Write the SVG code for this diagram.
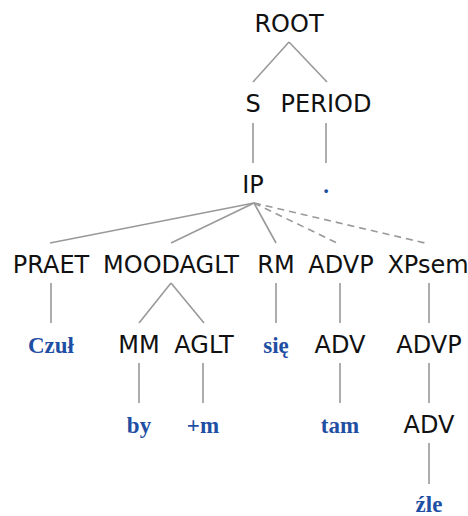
<svg xmlns="http://www.w3.org/2000/svg" width="468" height="516" viewBox="0 0 468 516">
<style>
.n{font-family:"DejaVu Sans",Verdana,sans-serif;font-size:24px;fill:#111;text-anchor:middle}
.w{font-family:"Liberation Serif","Times New Roman",serif;font-size:23px;font-weight:bold;fill:#1f4fa3;text-anchor:middle}
.e{stroke:#999;stroke-width:1.6;fill:none}
.d{stroke-dasharray:7,5}
</style>
<rect width="468" height="516" fill="#fff"/>
<g id="connectors">
<line class="e" x1="289" y1="42" x2="253" y2="82"/>
<line class="e" x1="289" y1="42" x2="327" y2="82"/>
<line class="e" x1="253" y1="123" x2="253" y2="163"/>
<line class="e" x1="326" y1="123" x2="326" y2="163"/>
<line class="e" x1="254" y1="203" x2="50" y2="243"/>
<line class="e" x1="254" y1="203" x2="171" y2="243"/>
<line class="e" x1="254" y1="203" x2="276" y2="243"/>
<line class="e d" x1="254" y1="203" x2="337" y2="243"/>
<line class="e d" x1="254" y1="203" x2="425" y2="243"/>
<line class="e" x1="51" y1="283" x2="51" y2="323"/>
<line class="e" x1="171" y1="283" x2="139" y2="323"/>
<line class="e" x1="171" y1="283" x2="204" y2="323"/>
<line class="e" x1="276" y1="283" x2="276" y2="323"/>
<line class="e" x1="340" y1="283" x2="340" y2="323"/>
<line class="e" x1="429" y1="283" x2="429" y2="323"/>
<line class="e" x1="139" y1="363" x2="139" y2="403"/>
<line class="e" x1="203" y1="363" x2="203" y2="403"/>
<line class="e" x1="340" y1="363" x2="340" y2="403"/>
<line class="e" x1="429" y1="363" x2="429" y2="403"/>
<line class="e" x1="429" y1="443" x2="429" y2="484"/>
</g>
<g id="root"><text class="n" x="289" y="32">ROOT</text></g>
<g id="s"><text class="n" x="253" y="112">S</text></g>
<g id="period"><text class="n" x="326" y="112">PERIOD</text></g>
<g id="ip"><text class="n" x="253" y="193">IP</text></g>
<g id="dot"><text class="w" x="326" y="193">.</text></g>
<g id="praet"><text class="n" x="51" y="273">PRAET</text></g>
<g id="moodaglt"><text class="n" x="171" y="273">MOODAGLT</text></g>
<g id="rm"><text class="n" x="276" y="273">RM</text></g>
<g id="advp1"><text class="n" x="341" y="273">ADVP</text></g>
<g id="xpsem"><text class="n" x="428" y="273">XPsem</text></g>
<g id="czul"><text class="w" x="51" y="353">Czuł</text></g>
<g id="mm"><text class="n" x="139" y="353">MM</text></g>
<g id="aglt"><text class="n" x="204" y="353">AGLT</text></g>
<g id="sie"><text class="w" x="276" y="353">się</text></g>
<g id="adv1"><text class="n" x="340" y="353">ADV</text></g>
<g id="advp2"><text class="n" x="429" y="353">ADVP</text></g>
<g id="by"><text class="w" x="139" y="433">by</text></g>
<g id="m"><text class="w" x="203" y="433">+m</text></g>
<g id="tam"><text class="w" x="340" y="433">tam</text></g>
<g id="adv2"><text class="n" x="429" y="433">ADV</text></g>
<g id="zle"><text class="w" x="429" y="512">źle</text></g>
</svg>
